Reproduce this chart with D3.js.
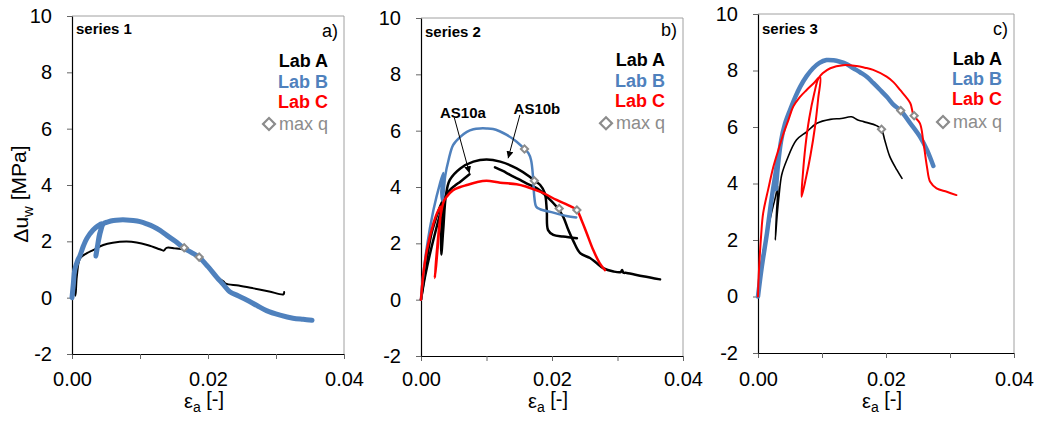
<!DOCTYPE html>
<html><head><meta charset="utf-8">
<script src="https://cdn.jsdelivr.net/npm/d3@7"></script>
<style>body{margin:0;background:#fff} svg{display:block;font-family:"Liberation Sans",Arial,sans-serif}</style>
</head><body><svg id="c" width="1040" height="423"></svg>
<script>
// ---------- data ----------
const xTicks = [0, 0.01, 0.02, 0.03, 0.04];
const yTicks = [-2, 0, 2, 4, 6, 8, 10];
const labNames = ["Lab A", "Lab B", "Lab C"];
const maxQLabel = "max q";
const seriesTitles = ["series 1", "series 2", "series 3"];
const panelTags = ["a)", "b)", "c)"];

// series 1
const s1LabA = [[0,0],[0.0003,0.25],[0.0005,0.07],[0.0007,0.74],[0.0012,1.40],[0.0022,1.58],[0.0031,1.69],[0.0046,1.87],[0.0060,1.95],[0.0080,1.99],[0.0095,1.96],[0.0112,1.86],[0.0129,1.72],[0.0135,1.67],[0.0139,1.77],[0.0151,1.75],[0.0165,1.70],[0.0177,1.56],[0.0188,1.40],[0.0200,1.16],[0.0210,0.80],[0.0223,0.57],[0.0226,0.50],[0.0245,0.43],[0.0267,0.33],[0.0290,0.22],[0.0311,0.12],[0.0312,0.20]];
const s1LabB = [[0,0],[0.0002,0.5],[0.0004,0.98],[0.0008,1.30],[0.0012,1.51],[0.0017,1.85],[0.0022,2.11],[0.0031,2.40],[0.0038,2.55],[0.0044,2.62],[0.0040,2.20],[0.0036,1.60],[0.0035,1.48],[0.0038,1.90],[0.0042,2.35],[0.0046,2.62],[0.0053,2.69],[0.0061,2.74],[0.0070,2.76],[0.0080,2.76],[0.0090,2.74],[0.0100,2.70],[0.0110,2.62],[0.0120,2.52],[0.0130,2.38],[0.0139,2.22],[0.0152,2.00],[0.0165,1.75],[0.0176,1.60],[0.0187,1.43],[0.0200,1.10],[0.0213,0.72],[0.0222,0.48],[0.0232,0.21],[0.0245,0.06],[0.0257,-0.08],[0.0272,-0.28],[0.0286,-0.46],[0.0306,-0.62],[0.0325,-0.73],[0.0340,-0.77],[0.0353,-0.80]];
const s1LabC = [];
const s1MaxQ = [[0.0165,1.77],[0.0187,1.44]];

// series 2
const s2LabA_AS10a = [[0,0],[0.0005,0.8],[0.0010,1.6],[0.0016,2.35],[0.0023,2.9],[0.0029,3.3],[0.0034,3.54],[0.0044,3.89],[0.0052,4.05],[0.0060,4.19],[0.0067,4.32],[0.0074,4.45],null,[0.0113,4.70],[0.0125,4.57],[0.0136,4.43],[0.0149,4.28],[0.0161,4.13],[0.0177,3.95],[0.0192,3.66],[0.0207,3.30],[0.0217,2.95],[0.0225,2.47],[0.0233,2.06],[0.0243,1.65],[0.0258,1.48],[0.0268,1.30],[0.0278,1.12],[0.0294,1.00],[0.0305,0.98],[0.0307,1.05],[0.0309,0.96],[0.0314,0.95],[0.0339,0.83],[0.0365,0.72]];
const s2LabA_AS10b = [[0,0],[0.0006,0.8],[0.0014,1.66],[0.0024,2.59],[0.0031,3.2],[0.0034,3.5],[0.0031,2.4],[0.0031,1.6],[0.0034,2.5],[0.0038,3.7],[0.0044,4.25],[0.0060,4.66],[0.0080,4.90],[0.0100,4.98],[0.0121,4.90],[0.0146,4.66],[0.0166,4.36],[0.0173,4.22],[0.0182,4.07],[0.0189,3.78],[0.0192,3.18],[0.0194,2.47],[0.0202,2.30],[0.0217,2.24],[0.0238,2.18]];
const s2LabB = [[0,0],[0.0001,0.34],[0.0009,1.88],[0.0019,3.18],[0.0029,4.13],[0.0034,4.5],[0.0031,3.8],[0.0033,3.5],[0.0037,4.4],[0.0042,4.95],[0.0049,5.49],[0.0060,5.78],[0.0070,5.96],[0.0080,6.05],[0.0090,6.08],[0.0100,6.08],[0.0110,6.06],[0.0120,5.98],[0.0131,5.85],[0.0146,5.61],[0.0158,5.35],[0.0164,5.20],[0.0168,4.96],[0.0171,4.37],[0.0173,3.65],[0.0176,3.30],[0.0182,3.21],[0.0202,3.09],[0.0222,2.97],[0.0237,2.92]];
const s2LabC = [[0,0],[0.0003,0.8],[0.0009,1.76],[0.0019,2.71],[0.0026,3.15],[0.0030,3.3],[0.0027,2.3],[0.0023,1.2],[0.0021,0.77],[0.0025,1.9],[0.0030,3.0],[0.0035,3.5],[0.0039,3.65],[0.0049,3.89],[0.0060,4.00],[0.0070,4.07],[0.0085,4.17],[0.0100,4.22],[0.0121,4.15],[0.0146,4.10],[0.0160,4.02],[0.0172,3.92],[0.0187,3.78],[0.0207,3.54],[0.0228,3.32],[0.0238,3.18],[0.0245,2.83],[0.0253,2.36],[0.0263,1.76],[0.0273,1.29],[0.0281,1.05]];
const s2MaxQ = [[0.0158,5.35],[0.0173,4.22],[0.0211,3.24],[0.0238,3.18]];
const s2Notes = [
  {text: "AS10a", label: [0.0064, 6.66], from: [0.0051, 6.45], to: [0.0074, 4.49]},
  {text: "AS10b", label: [0.0177, 6.80], from: [0.0151, 6.56], to: [0.0133, 5.02]}
];

// series 3
const s3LabA = [[0,0],[0.0006,1.31],[0.0014,2.24],[0.0021,2.95],[0.0027,3.5],[0.0031,3.9],[0.0029,3.0],[0.0027,2.0],[0.0030,2.9],[0.0033,3.6],[0.0037,4.30],[0.0045,4.83],[0.0060,5.54],[0.0076,5.83],[0.0092,6.13],[0.0113,6.27],[0.0130,6.30],[0.0146,6.36],[0.0156,6.25],[0.0165,6.19],[0.0186,6.04],[0.0193,5.92],[0.0198,5.54],[0.0206,4.95],[0.0217,4.48],[0.0225,4.18]];
const s3LabB = [[0,0],[0.0006,1.06],[0.0014,2.24],[0.0021,3.42],[0.0027,4.3],[0.0032,5.0],[0.0030,4.4],[0.0028,3.8],[0.0031,4.6],[0.0036,5.5],[0.0042,6.1],[0.0050,6.60],[0.0058,7.05],[0.0066,7.43],[0.0076,7.80],[0.0086,8.08],[0.0096,8.27],[0.0107,8.37],[0.0118,8.36],[0.0128,8.31],[0.0139,8.22],[0.0149,8.08],[0.0160,7.93],[0.0170,7.78],[0.0180,7.56],[0.0191,7.31],[0.0202,7.05],[0.0212,6.78],[0.0223,6.58],[0.0238,6.13],[0.0253,5.66],[0.0264,5.19],[0.0274,4.62]];
const s3LabC = [[0,0],[0.0001,0.7],[0.0005,2.2],[0.0008,2.94],[0.0016,3.8],[0.0024,4.59],[0.0032,5.2],[0.0040,5.78],[0.0048,6.28],[0.0055,6.72],[0.0065,7.05],[0.0076,7.31],[0.0087,7.55],[0.0097,7.78],[0.0094,7.0],[0.0089,6.0],[0.0082,5.0],[0.0075,4.2],[0.0068,3.53],[0.0070,4.3],[0.0074,5.3],[0.0080,6.3],[0.0088,7.2],[0.0094,7.7],[0.0101,7.90],[0.0113,8.08],[0.0133,8.19],[0.0154,8.16],[0.0167,8.10],[0.0180,8.02],[0.0201,7.78],[0.0212,7.58],[0.0222,7.31],[0.0238,6.84],[0.0243,6.42],[0.0253,6.13],[0.0258,5.54],[0.0264,4.59],[0.0269,4.06],[0.0279,3.83],[0.0295,3.71],[0.0310,3.59]];
const s3MaxQ = [[0.0223,6.58],[0.0244,6.40],[0.0193,5.92]];

// ---------- layout / style ----------
const colors = {A: "#000000", B: "#4f81bd", C: "#ff0000"};
const maxQColor = "#8c8c8c";
const panels = [
  {left: 72, right: 344, top: 16, bottom: 354, legendRight: 328, legendY: [66.5, 87.5, 107.5, 130], tagBase: 37, titleBase: 34.3,
   lines: [{d: s1LabA, c: colors.A, w: 2}, {d: s1LabB, c: colors.B, w: 5}, {d: s1LabC, c: colors.C, w: 2}], maxQ: s1MaxQ, yTitle: true},
  {left: 421, right: 683, top: 18, bottom: 356, legendRight: 665, legendY: [66, 86.7, 106.7, 129.3], tagBase: 36, titleBase: 36.5,
   lines: [{d: s2LabA_AS10a, c: colors.A, w: 2.5}, {d: s2LabA_AS10b, c: colors.A, w: 2.5}, {d: s2LabB, c: colors.B, w: 2.5}, {d: s2LabC, c: colors.C, w: 2.5}], maxQ: s2MaxQ, notes: s2Notes},
  {left: 758, right: 1014, top: 14, bottom: 353, legendRight: 1002, legendY: [64.5, 84.5, 105, 128], tagBase: 35, titleBase: 34.3,
   lines: [{d: s3LabA, c: colors.A, w: 1.6}, {d: s3LabB, c: colors.B, w: 4.5}, {d: s3LabC, c: colors.C, w: 2}], maxQ: s3MaxQ}
];

const svg = d3.select("#c");
svg.append("defs").append("marker")
  .attr("id", "arr").attr("viewBox", "0 0 10 10").attr("refX", 10).attr("refY", 5)
  .attr("markerWidth", 7).attr("markerHeight", 7).attr("markerUnits", "userSpaceOnUse")
  .attr("orient", "auto")
  .append("path").attr("d", "M0,0L10,5L0,10z").attr("fill", "#000");

const diamond = size => d3.symbol(d3.symbolSquare, size)();

panels.forEach((p, i) => {
  const x = d3.scaleLinear().domain([0, 0.04]).range([p.left, p.right]);
  const y = d3.scaleLinear().domain([-2, 10]).range([p.bottom, p.top]);
  const g = svg.append("g");

  // frame (top/right)
  g.append("path").attr("d", `M${p.left},${p.top}H${p.right}V${p.bottom}`)
    .attr("fill", "none").attr("stroke", "#a0a0a0").attr("stroke-width", 1);

  const xa = g.append("g").attr("transform", `translate(0,${p.bottom})`)
    .call(d3.axisBottom(x).tickValues(xTicks).tickSizeInner(5).tickSizeOuter(0).tickPadding(367 - p.bottom)
      .tickFormat(d => Math.round(d * 100) % 2 === 0 ? d.toFixed(2) : ""));
  const ya = g.append("g").attr("transform", `translate(${p.left},0)`)
    .call(d3.axisLeft(y).tickValues(yTicks).tickSizeInner(5).tickSizeOuter(0).tickPadding(15)
      .tickFormat(d => String(d)));
  [xa, ya].forEach(a => {
    a.attr("font-family", null).attr("font-size", null);
    a.select(".domain").attr("stroke", "#000").attr("stroke-width", 1.2);
    a.selectAll(".tick line").attr("stroke", "#666");
    a.selectAll(".tick text").attr("fill", "#000").style("font-size", "20px");
  });

  // axis titles
  const xt = g.append("text").attr("x", (p.left + p.right) / 2 - 4).attr("y", 408)
    .attr("text-anchor", "middle").style("font-size", "20px");
  xt.append("tspan").text("ε");
  xt.append("tspan").attr("dy", "0.3em").style("font-size", "14px").text("a");
  xt.append("tspan").attr("dy", "-0.3em").text(" [-]");
  if (p.yTitle) {
    const yt = g.append("text").attr("transform", `translate(28,194) rotate(-90)`)
      .attr("text-anchor", "middle").style("font-size", "21px");
    yt.append("tspan").text("Δu");
    yt.append("tspan").attr("dy", "0.3em").style("font-size", "15px").text("w");
    yt.append("tspan").attr("dy", "-0.3em").text(" [MPa]");
  }

  // data lines
  const line = d3.line().defined(d => d !== null).x(d => x(d[0])).y(d => y(d[1]))
    .curve(d3.curveCatmullRom.alpha(0.5));
  p.lines.forEach(l => {
    if (!l.d.length) return;
    g.append("path").attr("d", line(l.d)).attr("fill", "none").attr("stroke", l.c)
      .attr("stroke-width", l.w).attr("stroke-linejoin", "round").attr("stroke-linecap", "round");
  });

  // max q markers
  g.selectAll(".mq").data(p.maxQ).join("path")
    .attr("d", diamond(26))
    .attr("transform", d => `translate(${x(d[0])},${y(d[1])}) rotate(45)`)
    .attr("fill", "#fff").attr("stroke", maxQColor).attr("stroke-width", 2);

  // annotations
  if (p.notes) {
    p.notes.forEach(n => {
      g.append("line").attr("x1", x(n.from[0])).attr("y1", y(n.from[1]))
        .attr("x2", x(n.to[0])).attr("y2", y(n.to[1]))
        .attr("stroke", "#000").attr("stroke-width", 1).attr("marker-end", "url(#arr)");
      g.append("text").attr("x", x(n.label[0])).attr("y", y(n.label[1]) + 5.5)
        .attr("text-anchor", "middle").style("font-size", "15px").style("font-weight", "bold").text(n.text);
    });
  }

  // panel titles
  g.append("text").attr("x", p.left + 4).attr("y", p.titleBase)
    .style("font-size", "15px").style("font-weight", "bold").text(seriesTitles[i]);
  g.append("text").attr("x", p.right - 6).attr("y", p.tagBase).attr("text-anchor", "end")
    .style("font-size", "18px").text(panelTags[i]);

  // legend
  const lc = [colors.A, colors.B, colors.C];
  labNames.forEach((t, k) => {
    g.append("text").attr("x", p.legendRight).attr("y", p.legendY[k]).attr("text-anchor", "end")
      .attr("fill", lc[k]).style("font-size", "18px").style("font-weight", "bold").text(t);
  });
  g.append("text").attr("x", p.legendRight).attr("y", p.legendY[3]).attr("text-anchor", "end")
    .attr("fill", maxQColor).style("font-size", "18px").text(maxQLabel);
  g.append("path").attr("d", diamond(72))
    .attr("transform", `translate(${p.legendRight - 59},${p.legendY[3] - 6}) rotate(45)`)
    .attr("fill", "#fff").attr("stroke", maxQColor).attr("stroke-width", 2.2);
});
</script></body></html>
